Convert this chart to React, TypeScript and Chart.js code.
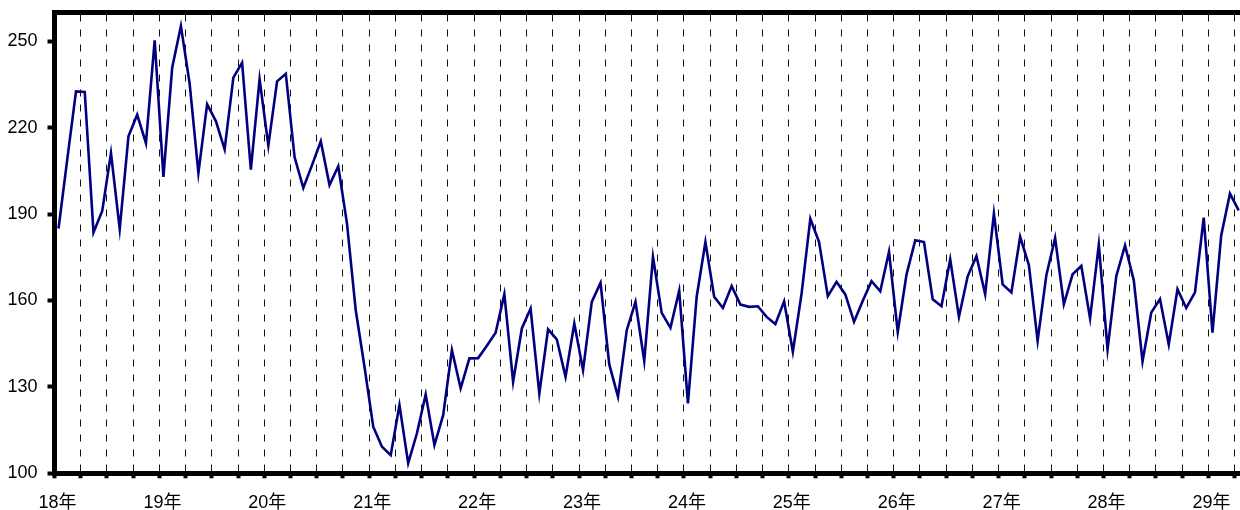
import React, { useEffect, useRef } from "react";
import { Chart, registerables } from "chart.js";

Chart.register(...registerables);

// Year labels for the x axis (one per 12 months, quarterly grid in between)
const yearLabels = ["18年", "19年", "20年", "21年", "22年", "23年", "24年", "25年", "26年", "27年", "28年", "29年"];

// Y axis tick values
const yTickValues = [100, 130, 160, 190, 220, 250];

// Monthly series values (from 18年 onward)
const values = [
  185.0, 209.0, 232.6, 232.4, 183.6, 191.1, 211.2, 184.8, 217.0, 224.5, 214.6, 250.3,
  202.9, 240.8, 255.3, 235.3, 204.3, 228.1, 222.3, 212.5, 237.4, 242.6, 205.4, 236.8,
  213.8, 236.1, 238.7, 209.8, 199.1, 207.0, 215.3, 200.1, 206.6, 186.7, 156.6, 137.0,
  116.2, 109.2, 106.3, 123.7, 103.5, 113.9, 127.4, 109.8, 120.2, 142.8, 129.5, 139.9,
  140.0, 144.3, 148.8, 162.2, 131.8, 150.3, 157.2, 127.7, 150.0, 146.5, 133.5, 152.0,
  135.8, 159.5, 166.1, 137.8, 126.6, 149.7, 159.5, 139.0, 175.1, 155.7, 150.5, 163.4,
  124.3, 161.3, 180.3, 161.3, 157.4, 165.0, 158.6, 157.8, 158.0, 154.3, 151.8, 159.7,
  142.2, 162.4, 188.4, 180.3, 161.5, 166.5, 162.1, 152.6, 159.9, 166.7, 163.2, 176.9,
  149.1, 169.0, 180.9, 180.3, 160.4, 158.0, 174.3, 154.3, 168.4, 175.4, 162.2, 190.2,
  165.6, 162.8, 182.1, 172.3, 146.0, 168.8, 181.7, 158.7, 169.1, 172.0, 153.8, 179.4,
  143.0, 168.5, 179.1, 167.0, 138.9, 155.8, 160.5, 144.7, 163.9, 157.4, 162.8, 188.8,
  148.8, 182.6, 197.1, 191.3,
];

const X_MIN = -0.46;
const X_MAX = 135.15;
const Y_MIN = 100;
const Y_MAX = 260;

const FONT = "'Liberation Sans', 'Noto Sans CJK JP', sans-serif";

const topBorder = {
  id: "topBorder",
  afterDraw(chart: any) {
    const { ctx, chartArea } = chart;
    ctx.save();
    ctx.strokeStyle = "#000";
    ctx.lineWidth = 5;
    ctx.beginPath();
    ctx.moveTo(chartArea.left - 2.5, chartArea.top);
    ctx.lineTo(chart.width, chartArea.top);
    ctx.stroke();
    ctx.restore();
  },
};

const zeroPadding = (s: any) => {
  s.paddingTop = 0;
  s.paddingBottom = 0;
  s.paddingLeft = 0;
  s.paddingRight = 0;
};

export default function App() {
  const ref = useRef<HTMLCanvasElement | null>(null);

  useEffect(() => {
    if (!ref.current) return;
    const quarterCount = Math.floor((X_MAX - X_MIN) / 3) + 1;
    const chart = new Chart(ref.current, {
      type: "line",
      data: {
        datasets: [
          {
            data: values.map((v, i) => ({ x: i, y: v })),
            borderColor: "#000080",
            borderWidth: 2.6,
            pointRadius: 0,
            tension: 0,
            fill: false,
          },
        ],
      },
      options: {
        animation: false,
        responsive: false,
        maintainAspectRatio: false,
        layout: { padding: { top: 12.5, left: 0, right: 0, bottom: 0 } },
        plugins: { legend: { display: false }, tooltip: { enabled: false } },
        scales: {
          x: {
            type: "linear",
            min: X_MIN,
            max: X_MAX,
            afterBuildTicks: (s: any) => {
              s.ticks = Array.from({ length: quarterCount }, (_, k) => ({ value: X_MIN + 3 * k }));
            },
            afterFit: (s: any) => {
              s.height = 36.7;
              zeroPadding(s);
            },
            border: { display: true, color: "#000", width: 5, dash: [7, 8], dashOffset: -2 },
            grid: {
              display: true,
              drawOnChartArea: true,
              color: "#111",
              lineWidth: 1,
              drawTicks: true,
              tickLength: 5,
              tickWidth: 4,
              tickColor: "#000",
              tickBorderDash: [],
            },
            ticks: {
              autoSkip: false,
              maxRotation: 0,
              minRotation: 0,
              padding: 14,
              labelOffset: 3,
              color: "#000",
              font: { family: FONT, size: 18 },
              callback: (_v: any, index: number) => (index % 4 === 0 ? yearLabels[index / 4] ?? "" : ""),
            },
          },
          y: {
            type: "linear",
            min: Y_MIN,
            max: Y_MAX,
            afterBuildTicks: (s: any) => {
              s.ticks = yTickValues.map((v) => ({ value: v }));
            },
            afterFit: (s: any) => {
              s.width = 54.5;
              zeroPadding(s);
            },
            border: { display: true, color: "#000", width: 5 },
            grid: {
              display: true,
              drawOnChartArea: false,
              drawTicks: true,
              tickLength: 7,
              tickWidth: 4,
              tickColor: "#000",
            },
            ticks: {
              padding: 10,
              color: "#000",
              font: { family: FONT, size: 18 },
            },
          },
        },
      },
      plugins: [topBorder],
    });
    return () => chart.destroy();
  }, []);

  return (
    <div style={{ position: "absolute", left: 0, top: 0, width: 1240, height: 510, background: "#fff" }}>
      <canvas ref={ref} width={1240} height={510} style={{ display: "block" }} />
    </div>
  );
}
